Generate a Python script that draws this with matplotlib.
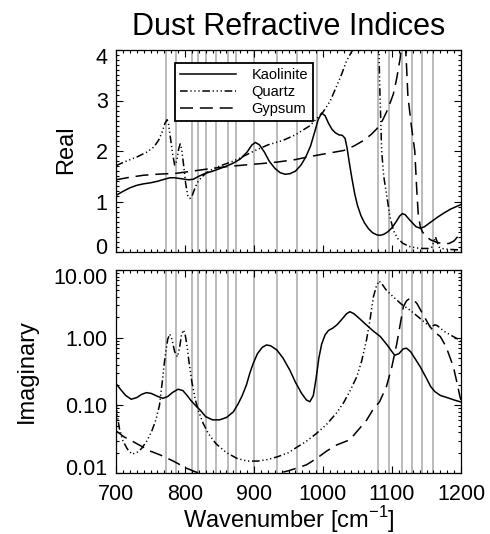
import matplotlib
matplotlib.use("Agg")
import matplotlib.pyplot as plt
from matplotlib.ticker import MultipleLocator, FixedLocator, FixedFormatter, LogLocator, NullFormatter
from matplotlib.lines import Line2D
import matplotlib.transforms as mtransforms

plt.rcParams['font.family'] = ['Liberation Sans', 'DejaVu Sans']

# ---------------- data ----------------
channels = [772, 787, 810, 819, 831, 845, 862, 874, 900, 934, 962, 991,
            1080, 1095, 1114, 1129, 1143, 1160]

kao_n_wn = [700, 710, 720, 730, 740, 750, 760, 770, 778, 785, 795, 805, 812, 820, 830, 840,
            850, 860, 870, 880, 890, 897, 902, 908, 915, 922, 930, 938, 945, 952, 960, 968,
            975, 982, 988, 993, 998, 1003, 1008, 1013, 1018, 1023, 1028, 1032, 1035, 1038,
            1042, 1046, 1050, 1055, 1060, 1066, 1072, 1078, 1083, 1088, 1094, 1100, 1106,
            1111, 1115, 1119, 1124, 1130, 1135, 1141, 1147, 1155, 1165, 1175, 1185, 1200]
kao_n = [1.12, 1.20, 1.27, 1.32, 1.35, 1.37, 1.40, 1.44, 1.47, 1.47, 1.45, 1.43, 1.44, 1.50,
         1.56, 1.60, 1.65, 1.70, 1.76, 1.84, 1.98, 2.12, 2.17, 2.12, 1.98, 1.80, 1.66, 1.57,
         1.54, 1.55, 1.60, 1.72, 1.88, 2.10, 2.38, 2.62, 2.75, 2.70, 2.55, 2.43, 2.36, 2.32,
         2.31, 2.25, 2.05, 1.78, 1.45, 1.15, 0.92, 0.72, 0.58, 0.46, 0.38, 0.34, 0.33, 0.35,
         0.40, 0.48, 0.60, 0.71, 0.76, 0.74, 0.66, 0.57, 0.50, 0.47, 0.50, 0.58, 0.68, 0.77,
         0.85, 0.94]

qtz_n_wn = [700, 715, 730, 745, 755, 762, 767, 771, 774, 776, 779, 782, 785, 788, 791, 793,
            795, 798, 801, 804, 807, 810, 814, 818, 824, 831, 840, 850, 860, 870, 884, 900,
            920, 942, 960, 981, 1000, 1010, 1019, 1027, 1034, 1040, 1048, 1056, 1066, 1074,
            1078, 1080, 1082, 1085, 1088, 1092, 1097, 1102, 1108, 1116, 1125, 1135, 1145,
            1153, 1158, 1161, 1163, 1165, 1168, 1175, 1185, 1200]
qtz_n = [1.71, 1.80, 1.88, 1.98, 2.08, 2.22, 2.38, 2.55, 2.62, 2.55, 2.25, 1.95, 1.72, 1.80,
         2.05, 2.14, 2.05, 1.72, 1.35, 1.12, 1.06, 1.10, 1.25, 1.38, 1.48, 1.57, 1.64, 1.70,
         1.75, 1.80, 1.89, 2.00, 2.12, 2.21, 2.32, 2.50, 2.77, 2.98, 3.26, 3.52, 3.78, 3.93,
         4.12, 4.6, 6.0, 8.0, 7.0, 4.8, 3.4, 2.0, 1.5, 1.15, 0.70, 0.43, 0.27, 0.17, 0.11,
         0.08, 0.07, 0.07, 0.10, 0.22, 0.30, 0.22, 0.10, 0.06, 0.05, 0.04]

gyp_n_wn = [700, 720, 740, 760, 788, 810, 836, 860, 884, 910, 933, 960, 981, 1005, 1030,
            1045, 1059, 1070, 1078, 1086, 1092, 1098, 1102, 1107, 1112, 1115, 1117, 1119,
            1121, 1123, 1128, 1133, 1136, 1138, 1141, 1144, 1150, 1156, 1165, 1175, 1183,
            1190, 1195, 1200]
gyp_n = [1.43, 1.48, 1.52, 1.54, 1.56, 1.60, 1.65, 1.69, 1.72, 1.75, 1.78, 1.83, 1.89, 1.95,
         2.01, 2.10, 2.21, 2.33, 2.44, 2.60, 2.77, 2.98, 3.13, 3.45, 3.85, 4.3, 4.5, 4.2, 3.7,
         3.1, 2.5, 2.0, 1.2, 0.76, 0.50, 0.40, 0.30, 0.24, 0.19, 0.16, 0.17, 0.22, 0.30, 0.45]

kao_k_wn = [700, 707, 714, 722, 730, 737, 744, 751, 760, 768, 775, 782, 790, 797, 803, 808,
            815, 822, 830, 840, 850, 860, 870, 877, 883, 889, 894, 899, 905, 912, 918, 924,
            933, 942, 952, 960, 969, 976, 981, 986, 990, 994, 998, 1003, 1008, 1014, 1020,
            1027, 1034, 1039, 1045, 1052, 1063, 1073, 1083, 1093, 1100, 1104, 1110, 1116,
            1121, 1127, 1134, 1141, 1150, 1156, 1162, 1170, 1180, 1190, 1200]
kao_k = [0.21, 0.17, 0.14, 0.123, 0.13, 0.145, 0.154, 0.15, 0.136, 0.127, 0.135, 0.155, 0.173,
         0.165, 0.14, 0.12, 0.10, 0.085, 0.068, 0.061, 0.061, 0.066, 0.08, 0.105, 0.14, 0.20,
         0.30, 0.42, 0.58, 0.72, 0.78, 0.76, 0.66, 0.50, 0.33, 0.22, 0.15, 0.12, 0.113, 0.14,
         0.25, 0.50, 0.80, 1.10, 1.28, 1.38, 1.54, 1.85, 2.25, 2.42, 2.25, 1.95, 1.54, 1.25,
         1.04, 0.78, 0.62, 0.55, 0.58, 0.68, 0.70, 0.62, 0.48, 0.37, 0.25, 0.19, 0.16, 0.14,
         0.13, 0.12, 0.112]

qtz_k_wn = [700, 702, 705, 710, 716, 723, 730, 737, 745, 752, 758, 763, 767, 770, 772, 775,
            778, 781, 785, 789, 792, 795, 797.6, 800, 803, 806, 810, 815, 820, 826, 834, 845,
            860, 875, 890, 905, 920, 935, 950, 962, 975, 990, 1005, 1020, 1030, 1040, 1049,
            1056, 1063, 1068, 1073, 1077, 1081, 1085, 1092, 1102, 1114, 1126, 1140, 1150,
            1157, 1162, 1166, 1175, 1188, 1200]
qtz_k = [0.12, 0.07, 0.045, 0.03, 0.023, 0.019, 0.02, 0.023, 0.03, 0.042, 0.062, 0.1, 0.22,
         0.42, 0.6, 0.95, 1.13, 0.95, 0.62, 0.52, 0.7, 1.1, 1.30, 1.15, 0.75, 0.42, 0.22, 0.12,
         0.08, 0.055, 0.038, 0.027, 0.02, 0.0165, 0.015, 0.015, 0.0158, 0.0175, 0.02, 0.024,
         0.029, 0.038, 0.052, 0.078, 0.11, 0.17, 0.265, 0.45, 0.92, 1.8, 4.0, 5.6, 6.9, 6.3,
         5.0, 4.0, 3.1, 2.56, 1.95, 1.6, 1.45, 1.55, 1.5, 1.25, 1.05, 0.9]

gyp_k_wn = [700, 712, 725, 750, 764, 783, 802, 815, 825, 850, 880, 905, 925, 937, 950, 962,
            976, 991, 1005, 1020, 1039, 1050, 1063, 1072, 1082, 1092, 1100, 1107, 1112, 1116.5,
            1121, 1126, 1131, 1136, 1145, 1155, 1162, 1170, 1178, 1185, 1189, 1194, 1198.5, 1200]
gyp_k = [0.042, 0.034, 0.029, 0.021, 0.0185, 0.015, 0.0118, 0.0104, 0.0097, 0.0088, 0.0083,
         0.0085, 0.0092, 0.0100, 0.0108, 0.0118, 0.0132, 0.0165, 0.021, 0.026, 0.031, 0.042,
         0.06, 0.085, 0.113, 0.19, 0.38, 0.82, 1.6, 2.87, 3.5, 3.81, 3.6, 3.22, 2.2, 1.45, 1.2,
         1.04, 0.75, 0.48, 0.37, 0.22, 0.134, 0.12]

series_names = ['Kaolinite', 'Quartz', 'Gypsum']
x_ticks = [700, 800, 900, 1000, 1100, 1200]
real_ticks = [0, 1, 2, 3, 4]
imag_ticks = [0.01, 0.1, 1.0, 10.0]
imag_tick_labels = ['0.01', '0.10', '1.00', '10.00']

# ---------------- styles ----------------
LW = 1.1
ls_kao = '-'
ls_qtz = (0, (5, 1.8, 0.8, 1.8, 0.8, 1.8, 0.8, 1.8))
ls_gyp = (0, (8.5, 4.5))
GRAY = '#a8a8a8'

W, H = 490, 534
fig = plt.figure(figsize=(W / 100, H / 100), dpi=100)
ax1 = fig.add_axes([116 / W, 1 - 252 / H, 345 / W, 202 / H])
ax2 = fig.add_axes([116 / W, 1 - 473 / H, 345 / W, 203 / H])

for ax in (ax1, ax2):
    for c in channels:
        ax.axvline(c, color=GRAY, lw=1.1, zorder=1)
    for s in ax.spines.values():
        s.set_linewidth(0.9)
    ax.set_xlim(700, 1200)
    ax.xaxis.set_major_locator(FixedLocator(x_ticks))
    ax.xaxis.set_minor_locator(MultipleLocator(10))
    ax.tick_params(which='both', direction='in', top=True, right=True, width=0.8,
                   labelsize=15.5, colors='black')
    ax.tick_params(which='major', length=5)
    ax.tick_params(which='minor', length=2.5)
    ax.tick_params(axis='y', pad=6)
    ax.tick_params(axis='x', pad=8)

# top panel: real part
ax1.plot(kao_n_wn, kao_n, color='black', lw=LW, ls=ls_kao, zorder=3)
ax1.plot(qtz_n_wn, qtz_n, color='black', lw=LW, ls=ls_qtz, zorder=3)
ax1.plot(gyp_n_wn, gyp_n, color='black', lw=LW, ls=ls_gyp, zorder=3)
ax1.set_ylim(0, 4)
ax1.yaxis.set_major_locator(FixedLocator(real_ticks))
ax1.yaxis.set_minor_locator(MultipleLocator(0.1))
ax1.tick_params(axis='x', labelbottom=False)

handles = [Line2D([], [], color='black', lw=LW, ls=ls_kao),
           Line2D([], [], color='black', lw=LW, ls=ls_qtz),
           Line2D([], [], color='black', lw=LW, ls=ls_gyp)]
leg = ax1.legend(handles, series_names, loc='upper left', bbox_to_anchor=(0.171, 0.937),
                 borderaxespad=0, frameon=True, fancybox=False, framealpha=1,
                 edgecolor='black', fontsize=10.5, handlelength=3.8, handletextpad=1.1,
                 borderpad=0.35, labelspacing=0.22)
leg.get_frame().set_linewidth(1.3)
leg.set_zorder(5)

# bottom panel: imaginary part
ax2.plot(kao_k_wn, kao_k, color='black', lw=LW, ls=ls_kao, zorder=3)
ax2.plot(qtz_k_wn, qtz_k, color='black', lw=LW, ls=ls_qtz, zorder=3)
ax2.plot(gyp_k_wn, gyp_k, color='black', lw=LW, ls=ls_gyp, zorder=3)
ax2.set_yscale('log')
ax2.set_ylim(0.01, 10)
ax2.yaxis.set_major_locator(FixedLocator(imag_ticks))
ax2.yaxis.set_major_formatter(FixedFormatter(imag_tick_labels))
ax2.yaxis.set_minor_locator(LogLocator(base=10, subs=[2, 3, 4, 5, 6, 7, 8, 9], numticks=20))
ax2.yaxis.set_minor_formatter(NullFormatter())

# nudge end labels inside the axes span
for ax in (ax1, ax2):
    ticks = ax.yaxis.get_major_ticks()
    dn = mtransforms.ScaledTranslation(0, -6 / 100, fig.dpi_scale_trans)
    up = mtransforms.ScaledTranslation(0, 6 / 100, fig.dpi_scale_trans)
    ticks[-1].label1.set_transform(ticks[-1].label1.get_transform() + dn)
    ticks[0].label1.set_transform(ticks[0].label1.get_transform() + up)

fig.text(288.5 / W, 1 - 35 / H, 'Dust Refractive Indices', ha='center', va='baseline', fontsize=22)
fig.text(66 / W, 1 - 150 / H, 'Real', rotation=90, ha='center', va='center', fontsize=17)
fig.text(27 / W, 1 - 371 / H, 'Imaginary', rotation=90, ha='center', va='center', fontsize=17)
fig.text(289 / W, 1 - 528 / H, r'Wavenumber [cm$^{\mathregular{-1}}$]', ha='center',
         va='baseline', fontsize=17)

fig.savefig('out.png', dpi=100)
